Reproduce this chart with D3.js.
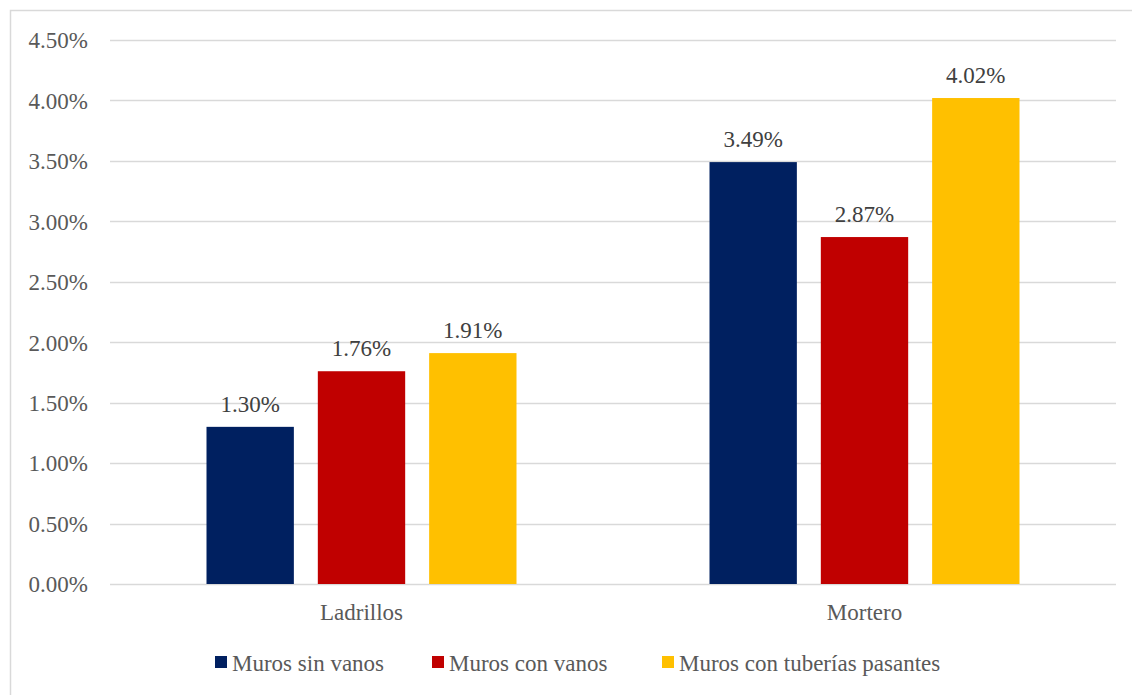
<!DOCTYPE html>
<html>
<head>
<meta charset="utf-8">
<script src="https://cdn.jsdelivr.net/npm/d3@7"></script>
</head>
<body style="margin:0;background:#fff">
<script>
const categories = ["Ladrillos", "Mortero"];
const seriesNames = ["Muros sin vanos", "Muros con vanos", "Muros con tuberías pasantes"];
const murosSinVanos = [0.0130, 0.0349];
const murosConVanos = [0.0176, 0.0287];
const murosConTuberias = [0.0191, 0.0402];
const yTicks = [0, 0.005, 0.01, 0.015, 0.02, 0.025, 0.03, 0.035, 0.04, 0.045];
const colors = ["#002060", "#C00000", "#FFC000"];

const FONT = "'Liberation Serif'";
const seriesValues = [murosSinVanos, murosConVanos, murosConTuberias];
const W = 1132, H = 695;
const svg = d3.select("body").append("svg").attr("width", W).attr("height", H);

// chart border
svg.append("rect").attr("x", 10.5).attr("y", 10.5).attr("width", W + 20).attr("height", H + 20)
  .attr("fill", "none").attr("stroke", "#d9d9d9").attr("stroke-width", 1.5);

const plot = {left: 110, right: 1116, top: 40, bottom: 584};
const y = d3.scaleLinear().domain([0, 0.045]).range([plot.bottom, plot.top]);
const x0 = d3.scaleBand().domain(categories).range([plot.left, plot.right]).paddingInner(0).paddingOuter(0);
const groupPad = 96.5;
const x1 = d3.scaleBand().domain(d3.range(seriesNames.length))
  .range([groupPad, x0.bandwidth() - groupPad]).paddingInner(24 / 111.5).paddingOuter(0);

// gridlines
svg.append("g").selectAll("line").data(yTicks).join("line")
  .attr("x1", plot.left).attr("x2", plot.right)
  .attr("y1", d => Math.round(y(d)) + 0.5).attr("y2", d => Math.round(y(d)) + 0.5)
  .attr("stroke", "#d9d9d9").attr("stroke-width", 1.3);

// y axis labels
const fmt = d3.format(".2%");
const yAxis = d3.axisLeft(y).tickValues(yTicks).tickFormat(fmt).tickSize(0).tickPadding(0);
const ya = svg.append("g").attr("transform", `translate(88,0)`).call(yAxis);
ya.attr("font-family", null).attr("font-size", null);
ya.select(".domain").remove();
ya.selectAll("text").attr("fill", "#595959").attr("dy", "0.34em")
  .style("font-family", FONT).style("font-size", "23px");

// bars
const groups = svg.append("g").selectAll("g").data(categories).join("g")
  .attr("transform", d => `translate(${x0(d)},0)`);
groups.each(function(cat, ci) {
  const g = d3.select(this);
  seriesValues.forEach((vals, si) => {
    const v = vals[ci];
    g.append("rect").attr("x", x1(si)).attr("width", x1.bandwidth())
      .attr("y", y(v)).attr("height", y(0) - y(v)).attr("fill", colors[si]);
    g.append("text").attr("x", x1(si) + x1.bandwidth() / 2).attr("y", y(v) - 15)
      .attr("text-anchor", "middle").attr("fill", "#404040")
      .style("font-family", FONT).style("font-size", "23px").text(fmt(v));
  });
});

// x axis labels
const xAxis = d3.axisBottom(x0).tickSize(0).tickPadding(0);
const xa = svg.append("g").attr("transform", `translate(0,${plot.bottom})`).call(xAxis);
xa.attr("font-family", null).attr("font-size", null);
xa.select(".domain").remove();
xa.selectAll("text").attr("fill", "#595959").attr("dy", null).attr("y", 36)
  .style("font-family", FONT).style("font-size", "23px");

// legend
const legendX = [215, 432, 662];
const lg = svg.append("g").selectAll("g").data(seriesNames).join("g")
  .attr("transform", (d, i) => `translate(${legendX[i]},656)`);
lg.append("rect").attr("width", 12).attr("height", 12).attr("fill", (d, i) => colors[i]);
lg.append("text").attr("x", 17).attr("y", 15).attr("fill", "#595959")
  .style("font-family", FONT).style("font-size", "23px").text(d => d);
</script>
</body>
</html>
